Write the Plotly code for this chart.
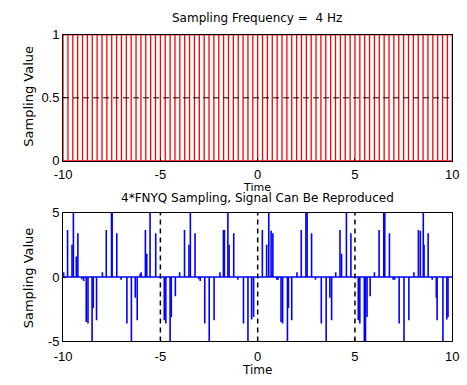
import numpy as np
import plotly.graph_objects as go

# ---- data ----
sample_times = [-10 + 0.25 * k for k in range(81)]   # 4 Hz sampling instants
sample_vals = [1] * 81

sig_t = [-9.97, -9.77, -9.54, -9.47, -9.32, -9.24, -9.04, -8.94, -8.81, -8.72, -8.51, -8.45, -8.28,
         -7.98, -7.78, -7.51, -7.48, -7.24, -7.02, -6.72, -6.49, -6.29, -6.19, -6.04, -5.99, -5.77,
         -5.70, -5.53, -5.24, -4.99, -4.80, -4.72, -4.50, -4.44, -4.23, -4.01, -3.76, -3.53, -3.46,
         -3.22, -3.03, -2.95, -2.72, -2.49, -2.24, -1.94, -1.76, -1.71, -1.53, -1.47, -1.23, -1.02,
         -0.73, -0.50, -0.31, -0.21, 0.24, 0.46, 0.57, 0.69, 0.78, 0.98, 1.05, 1.20, 1.28, 1.53, 1.58,
         1.75, 2.02, 2.24, 2.48, 2.54, 2.77, 2.97, 3.27, 3.52, 3.71, 3.80, 4.01, 4.23, 4.31, 4.56,
         4.79, 5.17, 5.25, 5.48, 5.54, 5.62, 5.78, 6.00, 6.24, 6.48, 6.53, 6.77, 6.96, 7.04, 7.27,
         7.52, 7.77, 8.03, 8.26, 8.36, 8.51, 8.55, 8.76, 8.97, 9.18, 9.22, 9.52, 9.72, 9.78]
sig_v = [0.37, 3.66, 2.5, 5, 1.6, 3.4, -0.17, -0.3, -3.5, -3.6, -5, -2.4, -3.35,
         0.37, 3.66, 5, 5, 3.4, -0.2, -3.6, -5, -1.6, -3.35, 0.25, 0.37, 3.66,
         1.8, 5, 3.4, -0.1, -3.35, -3.6, -5, -3.1, -1.5, 0.37, 3.66, 2.5, 5,
         3.4, -0.17, -0.3, -3.6, -5, -3.35, 0.37, 3.66, 3.66, 5, 2.5, 3.4, -0.2,
         -3.6, -5, -3.3, -3.1, 3.66, 2.5, 5, 3.6, 3.4, -0.2, -0.2, -3.5, -3.6, -5, -2.4,
         -3.35, 0.37, 3.66, 5, 5, 3.4, -0.2, -3.6, -5, -1.6, -3.35, 0.37, 3.66, 1.8, 5,
         3.4, -3.35, -3.6, -5, -5, -3.1, -1.5, 0.37, 3.66, 5, 5, 3.4, -0.2, -0.2, -3.6,
         -5, -3.35, 0.37, 3.66, 3.6, 5, 2.5, 3.4, -0.2, -1.6, -3.35, -5, -3.3, -3.1]

ref_level = [0.5]
period_marks = [-5, 0, 5]

x_ticks = [-10, -5, 0, 5, 10]
x_ticktext = ["-10", "-5", "0", "5", "10"]
top_yticks = [0, 0.5, 1]
top_yticktext = ["0", "0.5", "1"]
bot_yticks = [-5, 0, 5]
bot_yticktext = ["-5", "0", "5"]

top_title = "Sampling Frequency =  4 Hz"
bot_title = "4*FNYQ Sampling, Signal Can Be Reproduced"


def stems(xs, ys):
    sx, sy = [], []
    for x, y in zip(xs, ys):
        sx += [x, x, None]
        sy += [0, y, None]
    return sx, sy


TFONT = "DejaVu Sans"
KFONT = "Liberation Sans"
fig = go.Figure()

tx, ty = stems(sample_times, sample_vals)
fig.add_trace(go.Scatter(x=tx, y=ty, mode="lines", line=dict(color="#ff0000", width=1.3),
                         xaxis="x", yaxis="y", hoverinfo="skip"))
fig.add_trace(go.Scatter(x=[-10, 10], y=[0, 0], mode="lines", line=dict(color="red", width=1.3),
                         xaxis="x", yaxis="y"))
fig.add_trace(go.Scatter(x=[-10, 10], y=[1, 1], mode="lines", line=dict(color="red", width=1),
                         xaxis="x", yaxis="y"))
fig.add_trace(go.Scatter(x=[-10, 10], y=ref_level * 2, mode="lines",
                         line=dict(color="black", width=1, dash="6px,4px"), xaxis="x", yaxis="y"))

bx, by = stems(sig_t, sig_v)
fig.add_trace(go.Scatter(x=bx, y=by, mode="lines", line=dict(color="blue", width=1.6),
                         xaxis="x2", yaxis="y2"))
fig.add_trace(go.Scatter(x=[-10, 10], y=[0, 0], mode="lines", line=dict(color="blue", width=1.6),
                         xaxis="x2", yaxis="y2"))
for m in period_marks:
    fig.add_trace(go.Scatter(x=[m, m], y=[-5, 5], mode="lines",
                             line=dict(color="black", width=1.5, dash="5px,4px"),
                             xaxis="x2", yaxis="y2"))

axis_common = dict(showline=True, mirror=True, linecolor="black", linewidth=1,
                   showgrid=False, zeroline=False, ticks="inside", ticklen=3,
                   tickcolor="black", tickfont=dict(family=KFONT, size=13, color="black"))

xd = [56 / 467, 459 / 467]
fig.update_layout(
    width=467, height=385, margin=dict(l=0, r=0, t=0, b=0),
    paper_bgcolor="white", plot_bgcolor="white", showlegend=False,
    xaxis=dict(domain=xd, range=[-10, 10], tickvals=x_ticks, ticktext=x_ticktext,
               anchor="y", ticklabelstandoff=2, **axis_common),
    yaxis=dict(domain=[(385 - 160) / 385, (385 - 29) / 385], range=[0, 1],
               tickvals=top_yticks, ticktext=top_yticktext, anchor="x", **axis_common),
    xaxis2=dict(domain=xd, range=[-10, 10], tickvals=x_ticks, ticktext=x_ticktext,
                anchor="y2", ticklabelstandoff=3, **axis_common),
    yaxis2=dict(domain=[(385 - 348) / 385, (385 - 214) / 385], range=[-5, 5],
                tickvals=bot_yticks, ticktext=bot_yticktext, anchor="x2", **axis_common),
)

def txt(x, y, s, angle=0, size=12):
    fig.add_annotation(x=x / 467, y=1 - y / 385, xref="paper", yref="paper", text=s,
                       showarrow=False, textangle=angle, xanchor="center", yanchor="middle",
                       font=dict(family=TFONT, size=size, color="black"))

txt(257, 11, top_title)
txt(257, 188, "Time", size=11)
txt(257, 199, bot_title)
txt(257, 378, "Time")
txt(20, 93, "Sampling Value", -90, 13)
txt(20, 282, "Sampling Value", -90, 13)

fig.write_html("out.html")
